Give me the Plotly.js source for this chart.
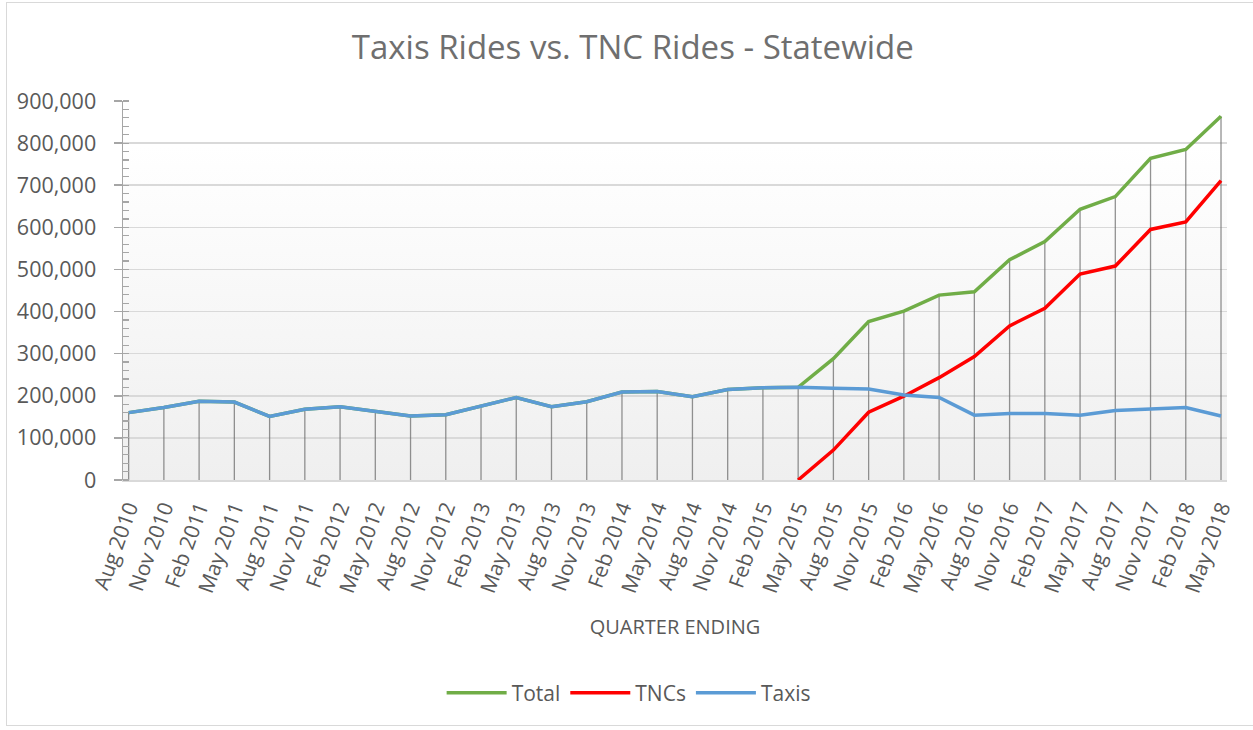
<!DOCTYPE html>
<html>
<head>
<meta charset="utf-8">
<script src="https://cdn.plot.ly/plotly-3.0.1.min.js"></script>
<style>
  html, body { margin: 0; padding: 0; background: #ffffff; }
  #frame { position: absolute; left: 6px; top: 2px; width: 1260px; height: 724px; border: 1px solid #d9d9d9; box-sizing: border-box; }
  #chart { position: absolute; left: 0; top: 0; width: 1253px; height: 730px; }
</style>
</head>
<body>
<div id="frame"></div>
<div id="chart"></div>
<script>
const quarters = ["Aug 2010","Nov 2010","Feb 2011","May 2011","Aug 2011","Nov 2011","Feb 2012","May 2012",
  "Aug 2012","Nov 2012","Feb 2013","May 2013","Aug 2013","Nov 2013","Feb 2014","May 2014",
  "Aug 2014","Nov 2014","Feb 2015","May 2015","Aug 2015","Nov 2015","Feb 2016","May 2016",
  "Aug 2016","Nov 2016","Feb 2017","May 2017","Aug 2017","Nov 2017","Feb 2018","May 2018"];

const taxis = [160000,172000,187000,185000,151000,168000,174000,163000,
  152000,155000,176000,196000,174000,186000,209000,210000,
  198000,215000,219000,220000,218000,216000,202000,196000,
  154000,158000,158000,154000,165000,168000,172000,152000];

const tncs = [null,null,null,null,null,null,null,null,
  null,null,null,null,null,null,null,null,
  null,null,null,0,71000,161000,199000,243000,
  293000,366000,408000,489000,508000,595000,613000,711000];

const total = [160000,172000,187000,185000,151000,168000,174000,163000,
  152000,155000,176000,196000,174000,186000,209000,210000,
  198000,215000,219000,220000,288000,376000,401000,439000,
  447000,523000,566000,643000,673000,764000,785000,864000];

const yTickVals = [0,100000,200000,300000,400000,500000,600000,700000,800000,900000];
const yTickText = ["0","100,000","200,000","300,000","400,000","500,000","600,000","700,000","800,000","900,000"];

const FONT = "'Open Sans', 'Noto Sans', sans-serif";
const TXT = "#595959";

const idx = quarters.map((q, i) => i);

const traces = [
  {
    name: "Total", x: idx, y: total, type: "scatter", mode: "lines",
    line: { color: "#70AD47", width: 3.5 },
    error_y: { type: "data", symmetric: false, array: total.map(() => 0), arrayminus: total,
               color: "rgba(110,110,110,0.75)", thickness: 1.3, width: 0 }
  },
  {
    name: "TNCs", x: idx, y: tncs, type: "scatter", mode: "lines",
    line: { color: "#FF0000", width: 3.5 }
  },
  {
    name: "Taxis", x: idx, y: taxis, type: "scatter", mode: "lines",
    line: { color: "#5B9BD5", width: 3.5 }
  }
];

const gradSvg = '<svg xmlns="http://www.w3.org/2000/svg" width="100" height="100" preserveAspectRatio="none">' +
  '<defs><linearGradient id="g" x1="0" y1="0" x2="0" y2="1">' +
  '<stop offset="0" stop-color="#ffffff"/><stop offset="0.12" stop-color="#ffffff"/><stop offset="1" stop-color="#efefef"/>' +
  '</linearGradient></defs><rect width="100" height="100" fill="url(#g)"/></svg>';

const layout = {
  width: 1253, height: 730,
  margin: { l: 123, r: 26, t: 101, b: 250 },
  paper_bgcolor: "rgba(0,0,0,0)",
  plot_bgcolor: "rgba(0,0,0,0)",
  font: { family: FONT, color: TXT },
  title: { text: "Taxis Rides vs. TNC Rides - Statewide", font: { family: FONT, size: 33, color: "#6f6f6f" },
           x: 0.505, xanchor: "center", y: 0.935, yanchor: "middle" },
  showlegend: true,
  legend: { orientation: "h", x: 0.458, xanchor: "center", y: -0.562, yanchor: "middle",
            font: { family: FONT, size: 21, color: TXT }, traceorder: "normal", itemwidth: 60 },
  xaxis: {
    range: [-0.16, 31.17], tickmode: "array", tickvals: idx, ticktext: quarters,
    tickangle: -70, tickfont: { family: FONT, size: 21, color: TXT },
    showgrid: false, zeroline: false, showline: true, linecolor: "#d9d9d9", linewidth: 1.5,
    ticks: "", ticklabelstandoff: 6, fixedrange: true,
    title: { text: "QUARTER ENDING", font: { family: FONT, size: 20, color: TXT }, standoff: 24 }
  },
  yaxis: {
    range: [0, 900000], tickmode: "array", tickvals: yTickVals, ticktext: yTickText,
    tickfont: { family: FONT, size: 21.5, color: TXT },
    showgrid: true, gridcolor: "#d9d9d9", gridwidth: 1.5,
    zeroline: false, showline: true, linecolor: "#a6a6a6", linewidth: 1.5,
    ticks: "outside", ticklen: 8, tickcolor: "#a6a6a6", tickwidth: 1.5, ticklabelstandoff: 13,
    minor: { ticks: "inside", dtick: 20000, ticklen: 6, tickcolor: "#a6a6a6", tickwidth: 1.2, showgrid: false },
    fixedrange: true
  },
  images: [{
    source: "data:image/svg+xml;charset=utf-8," + encodeURIComponent(gradSvg),
    xref: "x domain", yref: "y domain", x: 0, y: 1, sizex: 1, sizey: 1,
    xanchor: "left", yanchor: "top", sizing: "stretch", layer: "below"
  }]
};

Plotly.newPlot("chart", traces, layout, { displayModeBar: false, staticPlot: true });
</script>
</body>
</html>
